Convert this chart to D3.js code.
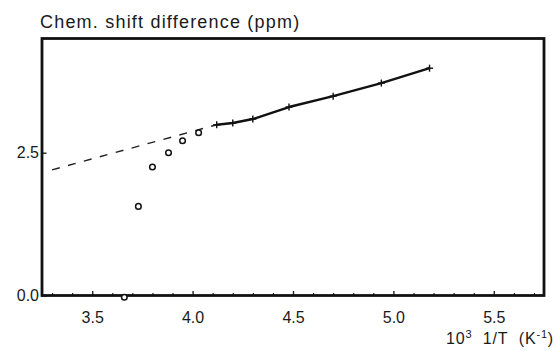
<!DOCTYPE html>
<html><head><meta charset="utf-8">
<script src="https://cdn.jsdelivr.net/npm/d3@7"></script>
<style>
html,body{margin:0;padding:0;background:#fff;}
svg{display:block;}
text{font-family:"Liberation Sans",Arial,Helvetica,sans-serif;fill:#1a1a1a;}
</style></head>
<body>
<svg id="chart" width="556" height="351"></svg>
<script>
// ---- data ----
const circleX = [3.66, 3.73, 3.80, 3.88, 3.95, 4.03];
const circleY = [-0.03, 1.56, 2.25, 2.50, 2.71, 2.85];
const solidX  = [4.12, 4.20, 4.30, 4.48, 4.70, 4.94, 5.18];
const solidY  = [2.99, 3.02, 3.09, 3.30, 3.49, 3.72, 3.98];
const dashX   = [3.30, 4.12];
const dashY   = [2.20, 2.99];
const xTicks  = [3.5, 4.0, 4.5, 5.0, 5.5];
const xMinor  = [3.3,3.4,3.6,3.7,3.8,3.9,4.1,4.2,4.3,4.4,4.6,4.7,4.8,4.9,5.1,5.2,5.3,5.4,5.6,5.7];
const yTicks  = [0.0, 2.5];
const yTitle  = "Chem. shift difference (ppm)";

// ---- layout ----
const L = 42, R = 544, T = 38.5, B = 295.5;
const svg = d3.select("#chart");
const x = d3.scaleLinear().domain([3.25, 5.75]).range([L, R]);
const y = d3.scaleLinear().domain([0, 4.5]).range([B, T]);

// minor ticks
svg.append("g").attr("transform", `translate(0,${B})`)
  .call(d3.axisBottom(x).tickValues(xMinor).tickSizeInner(-2.5).tickSizeOuter(0).tickFormat(""))
  .call(g => g.select(".domain").remove())
  .call(g => g.selectAll("line").attr("stroke", "#222").attr("stroke-width", 1.2));

// major x ticks
svg.append("g").attr("transform", `translate(0,${B})`)
  .call(d3.axisBottom(x).tickValues(xTicks).tickSizeInner(-4.5).tickSizeOuter(0).tickPadding(16).tickFormat(d3.format(".1f")))
  .call(g => g.select(".domain").remove())
  .call(g => g.selectAll("line").attr("stroke", "#222").attr("stroke-width", 1.4))
  .call(g => g.selectAll("text").attr("font-size", 16).attr("fill", "#1a1a1a")
     .attr("font-family", "Liberation Sans, Arial, sans-serif"));

// y ticks
svg.append("g").attr("transform", `translate(${L},0)`)
  .call(d3.axisLeft(y).tickValues(yTicks).tickSizeInner(-4.5).tickSizeOuter(0).tickPadding(3).tickFormat(d3.format(".1f")))
  .call(g => g.select(".domain").remove())
  .call(g => g.selectAll("line").attr("stroke", "#222").attr("stroke-width", 1.4))
  .call(g => g.selectAll("text").attr("font-size", 16).attr("fill", "#1a1a1a")
     .attr("font-family", "Liberation Sans, Arial, sans-serif"));

// frame
svg.append("rect").attr("x", L).attr("y", T).attr("width", R - L).attr("height", B - T)
  .attr("fill", "none").attr("stroke", "#111").attr("stroke-width", 2.8);

const line = d3.line().x(d => x(d[0])).y(d => y(d[1]));

// dashed extrapolation
svg.append("path").datum(dashX.map((v, i) => [v, dashY[i]]))
  .attr("d", line).attr("fill", "none").attr("stroke", "#222")
  .attr("stroke-width", 1.4).attr("stroke-dasharray", "8,8.5");

// solid line
const solid = solidX.map((v, i) => [v, solidY[i]]);
svg.append("path").datum(solid)
  .attr("d", line).attr("fill", "none").attr("stroke", "#111")
  .attr("stroke-width", 2.4).attr("stroke-linejoin", "round");

// plus markers
const pm = svg.append("g").attr("stroke", "#111").attr("stroke-width", 1.4);
solid.forEach(d => {
  const cx = x(d[0]), cy = y(d[1]);
  pm.append("line").attr("x1", cx).attr("x2", cx).attr("y1", cy - 3.5).attr("y2", cy + 3.5);
  pm.append("line").attr("x1", cx - 3.5).attr("x2", cx + 3.5).attr("y1", cy).attr("y2", cy);
});

// open circles
svg.append("g").selectAll("circle").data(circleX.map((v, i) => [v, circleY[i]]))
  .join("circle").attr("cx", d => x(d[0])).attr("cy", d => y(d[1])).attr("r", 2.8)
  .attr("fill", "#fff").attr("stroke", "#111").attr("stroke-width", 1.5);

// titles
svg.append("text").attr("x", 40).attr("y", 28).attr("font-size", 18)
  .attr("letter-spacing", 1.2).text(yTitle);

const xt = svg.append("text").attr("x", 554).attr("y", 344).attr("font-size", 16)
  .attr("letter-spacing", 0.8).attr("text-anchor", "end");
xt.append("tspan").text("10");
xt.append("tspan").attr("dy", -6).attr("font-size", 11).text("3");
xt.append("tspan").attr("dy", 6).text("\u00a0\u00a01/T\u00a0\u00a0(K");
xt.append("tspan").attr("dy", -6).attr("font-size", 11).text("-1");
xt.append("tspan").attr("dy", 6).text(")");
</script>
</body></html>
